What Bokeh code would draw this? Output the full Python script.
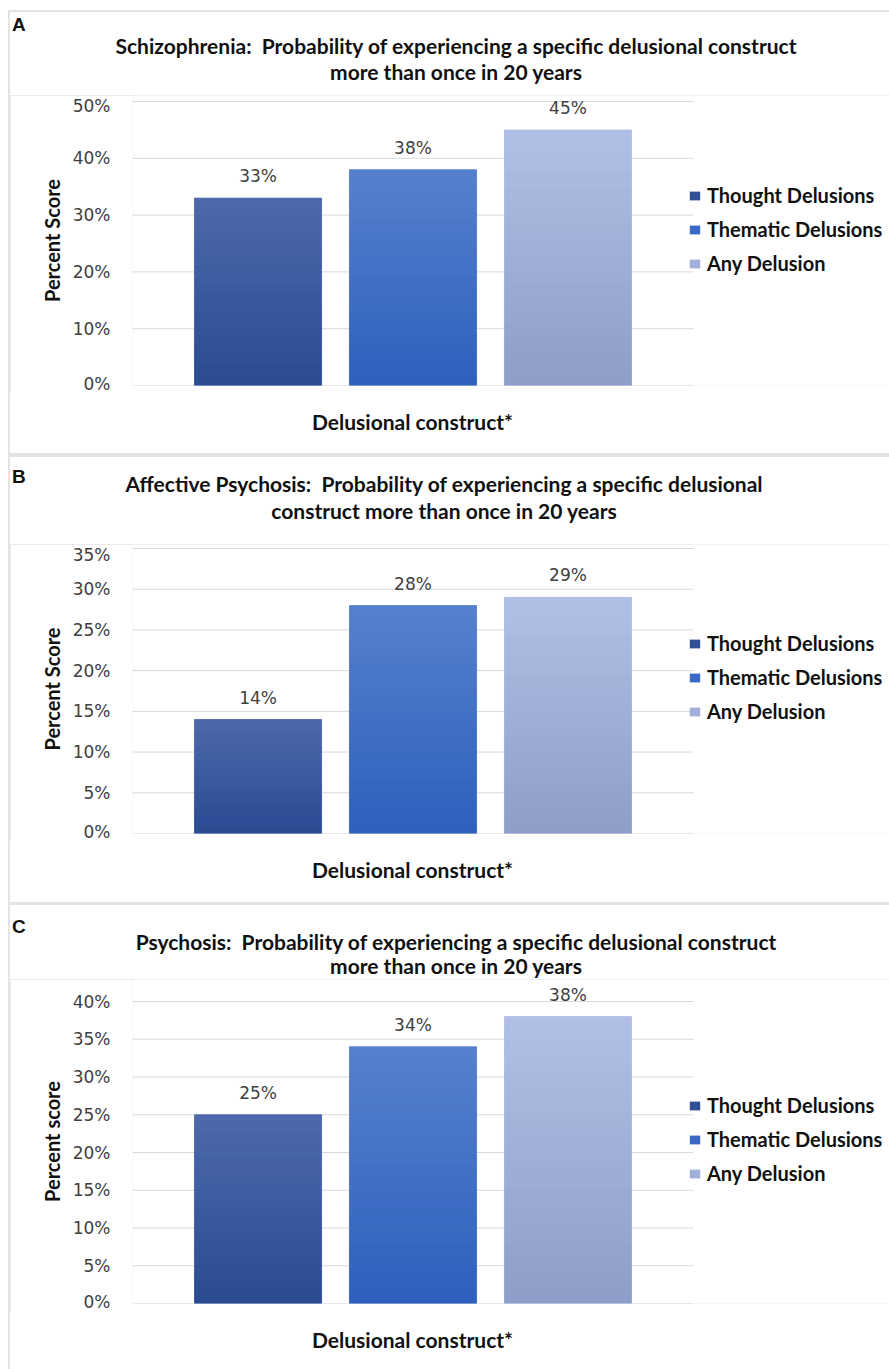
from bokeh.plotting import figure
from bokeh.models import (ColumnDataSource, LabelSet, Legend, LegendItem,
                          FixedTicker, Range1d, Div)
from bokeh.layouts import column
from bokeh.core.properties import value
from bokeh.embed import file_html
from bokeh.resources import INLINE

# ---------------- data ----------------
categories = ["Thought Delusions", "Thematic Delusions", "Any Delusion"]
schizophrenia = [33, 38, 45]
affective = [14, 28, 29]
psychosis = [25, 34, 38]

ticks_A = [0, 10, 20, 30, 40, 50]
ticks_B = [0, 5, 10, 15, 20, 25, 30, 35]
ticks_C = [0, 5, 10, 15, 20, 25, 30, 35, 40]

letters = ["A", "B", "C"]
titles = [
    ["Schizophrenia:&nbsp; Probability of experiencing a specific delusional construct",
     "more than once in 20 years"],
    ["Affective Psychosis:&nbsp; Probability of experiencing a specific delusional",
     "construct more than once in 20 years"],
    ["Psychosis:&nbsp; Probability of experiencing a specific delusional construct",
     "more than once in 20 years"],
]
ylabels = ["Percent Score", "Percent Score", "Percent score"]
xlabel = "Delusional construct*"

# ---------------- style ----------------
legend_colors = ["#2f4f97", "#3b68c4", "#a3afdb"]
top_colors = ["#4e6aac", "#5781cd", "#b2bfe5"]
bottom_colors = ["#2a4a93", "#2e5fbe", "#8e9cc9"]
TITLE_FONT = "Lato"
NUM_FONT = "DejaVu Sans"
TXT = "#111111"
W = 879
BL = 122
GRID_W = 561          # pixel width of the gridded plot area
PAD = 0.31
BAR_W = 0.82


def hex2rgb(h):
    h = h.lstrip("#")
    return tuple(int(h[i:i + 2], 16) for i in (0, 2, 4))


def mix(c1, c2, t):
    a, b = hex2rgb(c1), hex2rgb(c2)
    return "#%02x%02x%02x" % tuple(int(round(a[i] + (b[i] - a[i]) * t)) for i in range(3))


def title_div(idx, height, mtop, letter_y, cx, line_ys):
    parts = [f'<div style="position:relative;width:{W}px;height:{height}px;'
             f'background:#ffffff;overflow:hidden;color:{TXT};">']
    parts.append(f'<div style="position:absolute;left:2px;top:{letter_y - 12}px;'
                 f'height:24px;line-height:24px;font-family:\'Liberation Sans\';'
                 f'font-weight:bold;font-size:19px;">{letters[idx]}</div>')
    for k, line in enumerate(titles[idx]):
        parts.append(f'<div style="position:absolute;left:{cx}px;top:{line_ys[k] - 13}px;'
                     f'height:26px;line-height:26px;transform:translateX(-50%);'
                     f'white-space:nowrap;font-family:{TITLE_FONT};font-weight:bold;'
                     f'font-size:21px;">{line}</div>')
    parts.append('</div>')
    return Div(text="".join(parts), width=W, height=height, margin=(mtop, 0, 0, 2),
               styles={"background-color": "#ffffff"})


def xlabel_div(height, cy):
    cx = BL + GRID_W / 2
    html = (f'<div style="position:relative;width:{W}px;height:{height}px;'
            f'background:#ffffff;overflow:hidden;color:{TXT};">'
            f'<div style="position:absolute;left:{cx}px;top:{cy - 13}px;height:26px;'
            f'line-height:26px;transform:translateX(-50%);white-space:nowrap;'
            f'font-family:{TITLE_FONT};font-weight:bold;font-size:21px;">{xlabel}</div></div>')
    return Div(text=html, width=W, height=height, margin=(0, 0, 0, 2),
               styles={"background-color": "#ffffff"})


def chart_fig(idx, vals, ticks, height, grid_px, ext, legend_bottom):
    top = ticks[-1]
    y_end = top + ext * top / grid_px
    n_cat = len(categories)
    xs = [i + 1 for i in range(n_cat)]
    x_start = 0.5 - PAD
    x_grid_end = n_cat + 0.5 + PAD
    frame_w = W - BL
    x_end = x_start + (x_grid_end - x_start) * frame_w / GRID_W
    p = figure(width=W, height=height, output_backend="svg", toolbar_location=None,
               x_range=Range1d(x_start, x_end), y_range=Range1d(0, y_end),
               min_border_left=BL, min_border_right=0, min_border_top=0,
               min_border_bottom=8, margin=(0, 0, 0, 2))
    p.title.visible = False
    p.outline_line_color = None
    p.xgrid.visible = False
    p.ygrid.visible = False
    p.xaxis.visible = False
    p.yaxis.ticker = FixedTicker(ticks=ticks)
    p.yaxis.bounds = (0, top)
    p.yaxis.major_label_overrides = {t: f"{t}%" for t in ticks}
    ax = p.yaxis[0]
    ax.axis_line_color = None
    ax.major_tick_line_color = None
    ax.minor_tick_line_color = None
    ax.major_tick_out = 0
    ax.major_tick_in = 0
    ax.minor_tick_out = 0
    ax.minor_tick_in = 0
    p.yaxis.major_label_standoff = 22
    p.yaxis.major_label_text_font = NUM_FONT
    p.yaxis.major_label_text_font_size = "17px"
    p.yaxis.major_label_text_color = "#404040"
    p.yaxis.axis_label = ylabels[idx]
    p.yaxis.axis_label_text_font = TITLE_FONT
    p.yaxis.axis_label_text_font_style = "bold"
    p.yaxis.axis_label_text_font_size = "20px"
    p.yaxis.axis_label_text_color = TXT
    p.yaxis.axis_label_standoff = 6

    # horizontal gridlines at the tick values, across the gridded area only
    p.segment(x0=[x_start] * len(ticks), x1=[x_grid_end] * len(ticks),
              y0=ticks, y1=ticks, line_color="#d9d9d9", line_width=1)

    items = []
    for i, c in enumerate(categories):
        src = ColumnDataSource(dict(x=[xs[i]], top=[vals[i]]))
        r = p.vbar(x="x", top="top", bottom=0, width=BAR_W, source=src,
                   fill_color=legend_colors[i], line_color=None)
        items.append(LegendItem(label=c, renderers=[r]))
        n = 30
        bots = [vals[i] * k / n for k in range(n)]
        tops = [vals[i] * (k + 1) / n for k in range(n)]
        cols = [mix(bottom_colors[i], top_colors[i], (k + 0.5) / n) for k in range(n)]
        p.vbar(x=[xs[i]] * n, bottom=bots, top=tops, width=BAR_W,
               fill_color=cols, line_color=cols, line_width=0.6)

    lab_src = ColumnDataSource(dict(x=xs, y=vals, t=[f"{v}%" for v in vals]))
    p.add_layout(LabelSet(x="x", y="y", text="t", source=lab_src, y_offset=22,
                          text_align="center", text_baseline="middle",
                          text_font=value(NUM_FONT), text_font_size="17px",
                          text_color="#404040"))

    legend = Legend(items=items, location=(556, legend_bottom),
                    orientation="vertical", padding=0, margin=0, spacing=10,
                    glyph_width=13, glyph_height=11, label_standoff=6,
                    label_text_font=TITLE_FONT, label_text_font_style="bold",
                    label_text_font_size="20px", label_text_color=TXT,
                    border_line_color=None, background_fill_alpha=0)
    p.add_layout(legend, "center")
    return p


dA = title_div(0, 83, 2, 13, 446, [34, 60])
cA = chart_fig(0, schizophrenia, ticks_A, 298, 284, 6, 110)
xA = xlabel_div(60, 29)
dB = title_div(1, 87, 4, 20, 434, [27, 54])
cB = chart_fig(1, affective, ticks_B, 297, 285, 4, 110)
xB = xlabel_div(61, 29)
dC = title_div(2, 74, 3, 22, 446, [37, 61])
cC = chart_fig(2, psychosis, ticks_C, 332, 302, 22, 118)
xC = xlabel_div(58, 29)

layout = column(dA, cA, xA, dB, cB, xB, dC, cC, xC, spacing=0, margin=(10, 0, 0, 8),
                styles={"background-color": "#e4e4e4"})
open("out.html", "w").write(file_html(layout, INLINE))
